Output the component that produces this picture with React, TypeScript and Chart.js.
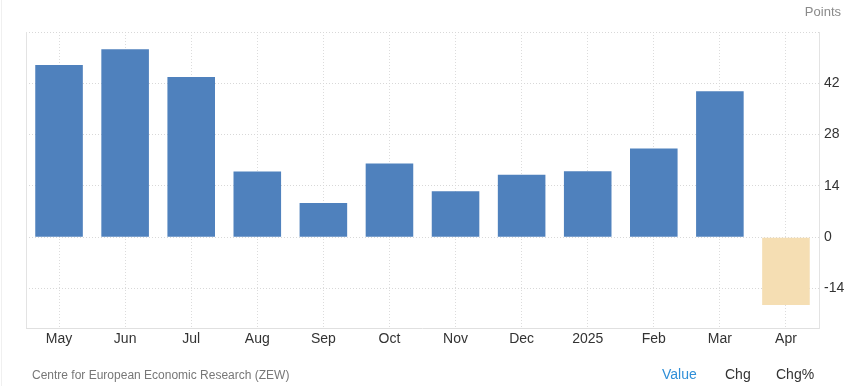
import React, { useEffect, useRef } from "react";
import { Chart, registerables } from "chart.js";

Chart.register(...registerables);

const categories = ["May", "Jun", "Jul", "Aug", "Sep", "Oct", "Nov", "Dec", "2025", "Feb", "Mar", "Apr"];
const values = [47.0, 51.3, 43.7, 17.9, 9.3, 20.1, 12.5, 17.0, 18.0, 24.2, 39.8, -18.5];
const yTicks = [-14, 0, 14, 28, 42, 56];
const yLabelsShown = [-14, 0, 14, 28, 42];
const positiveColor = "#4f81bd";
const negativeColor = "#f5deb3";

const FONT = "'Liberation Sans', Arial, sans-serif";

const bordersPlugin = {
  id: "bordersPlugin",
  afterDraw(chart: any) {
    const { ctx, chartArea } = chart;
    ctx.save();
    ctx.setLineDash([]);
    ctx.strokeStyle = "#e3e3e3";
    ctx.lineWidth = 1;
    ctx.beginPath();
    ctx.moveTo(chartArea.left + 0.5, chartArea.top);
    ctx.lineTo(chartArea.left + 0.5, chartArea.bottom);
    ctx.stroke();
    ctx.strokeStyle = "#e0e0e0";
    ctx.beginPath();
    ctx.moveTo(chartArea.left, chartArea.bottom + 0.5);
    ctx.lineTo(chartArea.right, chartArea.bottom + 0.5);
    ctx.stroke();
    ctx.restore();
  },
};

export default function App() {
  const ref = useRef<HTMLCanvasElement | null>(null);

  useEffect(() => {
    document.body.style.margin = "0";
    if (!ref.current) return;
    const chart = new Chart(ref.current, {
      type: "bar",
      data: {
        labels: categories,
        datasets: [
          {
            data: values,
            backgroundColor: values.map((v) => (v >= 0 ? positiveColor : negativeColor)),
            barPercentage: 0.72,
            categoryPercentage: 1,
          },
        ],
      },
      options: {
        animation: false,
        responsive: false,
        maintainAspectRatio: false,
        layout: { padding: { left: 26, top: 32, right: 0, bottom: 0 } },
        plugins: { legend: { display: false }, tooltip: { enabled: false } },
        scales: {
          x: {
            offset: true,
            grid: {
              offset: false,
              color: "#dcdcdc",
              lineWidth: 1,
              drawTicks: false,
            },
            border: { display: false, dash: [1, 2] } as any,
            ticks: {
              padding: 3,
              color: "#333333",
              font: { family: FONT, size: 14 },
              maxRotation: 0,
              autoSkip: false,
            },
            afterFit(scale: any) {
              scale.height = 58;
            },
          },
          y: {
            position: "right",
            min: -24.8,
            max: 56,
            afterBuildTicks(scale: any) {
              scale.ticks = yTicks.map((v) => ({ value: v }));
            },
            grid: {
              color: "#d8d8d8",
              drawTicks: false,
            },
            border: { display: true, color: "#e3e3e3", width: 1, dash: [1, 2] } as any,
            ticks: {
              padding: 5,
              color: "#333333",
              font: { family: FONT, size: 14 },
              callback: (v: any) => (yLabelsShown.includes(Number(v)) ? String(v) : ""),
            },
            afterFit(scale: any) {
              scale.width = 39;
            },
          },
        },
      },
      plugins: [bordersPlugin],
    });
    return () => chart.destroy();
  }, []);

  return (
    <div style={{ position: "relative", width: 858, height: 386, fontFamily: FONT, background: "#fff" }}>
      <canvas ref={ref} width={858} height={386} style={{ position: "absolute", left: 0, top: 0 }} />
      <div style={{ position: "absolute", left: 1, top: 0, width: 1, height: 386, background: "#f0f0f0" }} />
      <div style={{ position: "absolute", right: 17, top: 4, fontSize: 13, color: "#8a8a8a" }}>Points</div>
      <div style={{ position: "absolute", left: 32, top: 368, fontSize: 12, color: "#777777" }}>
        Centre for European Economic Research (ZEW)
      </div>
      <div style={{ position: "absolute", left: 662, top: 366, fontSize: 14, color: "#2f8fd8" }}>Value</div>
      <div style={{ position: "absolute", left: 725, top: 366, fontSize: 14, color: "#333333" }}>Chg</div>
      <div style={{ position: "absolute", left: 776, top: 366, fontSize: 14, color: "#333333" }}>Chg%</div>
    </div>
  );
}
